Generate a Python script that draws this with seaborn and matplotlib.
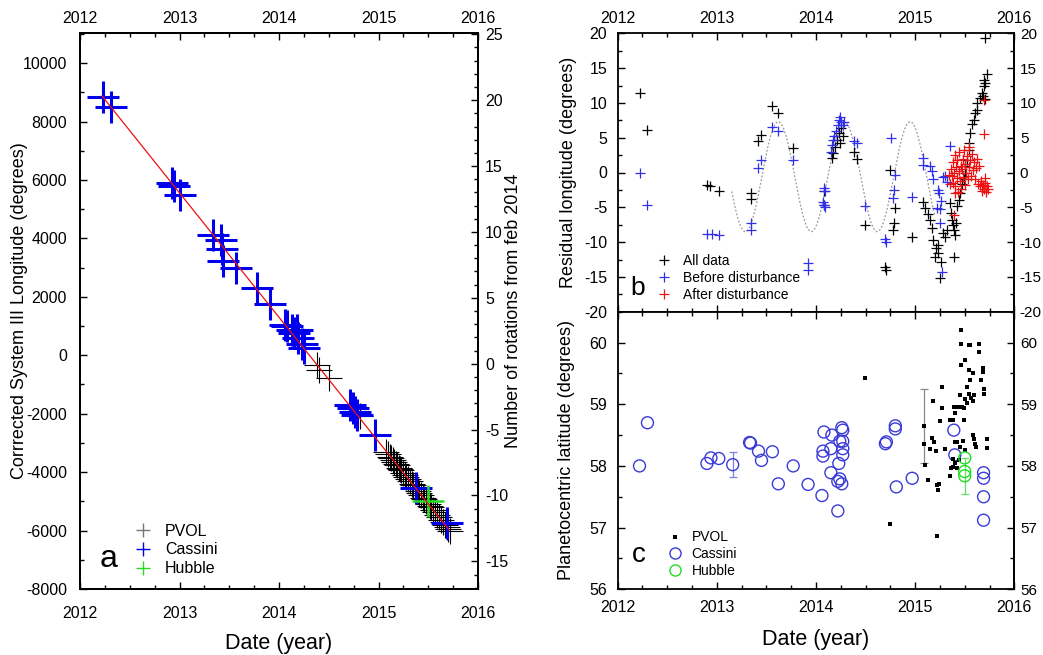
import numpy as np
import pandas as pd
import matplotlib
matplotlib.use("Agg")
import matplotlib.pyplot as plt
from matplotlib.lines import Line2D
from matplotlib.ticker import MultipleLocator
import seaborn as sns

# ---------------------------------------------------------------------------
# Panel a : corrected System III longitude of the feature
# ---------------------------------------------------------------------------
cassini_lon_date = [2012.23, 2012.31, 2012.92, 2012.94, 2013.01, 2013.34, 2013.42,
                    2013.43, 2013.44, 2013.57, 2013.78, 2013.91, 2014.06, 2014.08,
                    2014.13, 2014.15, 2014.18, 2014.19, 2014.23, 2014.25, 2014.71,
                    2014.74, 2014.76, 2014.78, 2014.96, 2015.38, 2015.69]
cassini_lon = [8840, 8510, 5900, 5790, 5470, 4130, 3960, 3640, 3220, 2990, 2310, 1740,
               1050, 990, 880, 760, 880, 600, 370, 250, -1690, -1810, -1950, -2030,
               -2720, -4540, -5740]

pvol_lon_date = [2014.38, 2014.40, 2014.50, 2014.73, 2014.76, 2014.81, 2015.08, 2015.10,
                 2015.12, 2015.13, 2015.15, 2015.16, 2015.18, 2015.19, 2015.21, 2015.22,
                 2015.23, 2015.25, 2015.27, 2015.28, 2015.30, 2015.32, 2015.34, 2015.35,
                 2015.37, 2015.38, 2015.40, 2015.41, 2015.43, 2015.45, 2015.46, 2015.48,
                 2015.50, 2015.52, 2015.53, 2015.55, 2015.57, 2015.59, 2015.61, 2015.63,
                 2015.65, 2015.67, 2015.69, 2015.70, 2015.72]
pvol_lon = [-320, -490, -780, -1790, -1900, -2080, -3300, -3380, -3470, -3510, -3590,
            -3640, -3720, -3770, -3850, -3890, -3940, -4020, -4110, -4150, -4230, -4320,
            -4400, -4450, -4530, -4570, -4660, -4700, -4790, -4870, -4910, -5000, -5080,
            -5170, -5210, -5300, -5380, -5470, -5550, -5640, -5720, -5810, -5890, -5940,
            -6020]

hubble_lon_date = [2015.50]
hubble_lon = [-5000]

# linear drift fit (end points)
fit_date = [2012.22, 2015.71]
fit_lon = [8880, -5980]

# ---------------------------------------------------------------------------
# Panel b : residual longitude after removing the drift
# ---------------------------------------------------------------------------
all_date = [2012.22, 2012.30, 2012.90, 2012.93, 2013.02, 2013.34, 2013.34, 2013.42,
            2013.45, 2013.56, 2013.62, 2013.77, 2014.08, 2014.08, 2014.16, 2014.17,
            2014.19, 2014.21, 2014.23, 2014.25, 2014.27, 2014.24, 2014.38, 2014.41,
            2014.49, 2014.70, 2014.71, 2014.75, 2014.80, 2014.79, 2014.78, 2014.97,
            2015.08, 2015.10, 2015.13, 2015.15, 2015.17, 2015.18, 2015.23, 2015.20,
            2015.23, 2015.25, 2015.28, 2015.30, 2015.32, 2015.21, 2015.26, 2015.35,
            2015.36, 2015.37, 2015.38, 2015.39, 2015.40, 2015.41, 2015.39, 2015.42,
            2015.44, 2015.45, 2015.47, 2015.49, 2015.50, 2015.50, 2015.52, 2015.54,
            2015.54, 2015.55, 2015.57, 2015.59, 2015.60, 2015.62, 2015.62, 2015.65,
            2015.67, 2015.69, 2015.70, 2015.69, 2015.72, 2015.70, 2015.68, 2015.70]
all_resid = [11.4, 6.1, -1.8, -2.0, -2.7, -2.9, -3.8, 4.5, 5.4, 9.6, 8.5, 3.5, -2.7,
             -4.6, 2.1, 2.8, 3.6, 4.7, 5.7, 6.4, 5.2, 4.2, 3.0, 2.0, -7.6, -13.6, -14.0,
             0.4, -5.1, -7.3, -8.3, -9.3, -4.2, -5.1, -5.9, -6.8, -8.0, -9.7, -10.4,
             -12.1, -11.6, -15.2, -8.7, -9.2, -8.3, -10.8, -12.8, -4.4, -5.8, -6.8,
             -7.5, -8.3, -9.0, -7.2, -12.1, -4.8, -3.9, -2.9, -1.7, -1.0, -0.1, 0.9,
             1.8, 3.3, 4.2, 5.7, 6.9, 7.6, 8.5, 9.0, 10.0, 10.7, 11.4, 12.4, 12.9, 13.3,
             14.1, 19.3, 11.0, 10.5]

before_date = [2012.22, 2012.30, 2012.90, 2012.95, 2013.02, 2013.34, 2013.34, 2013.42,
               2013.45, 2013.56, 2013.62, 2013.77, 2013.92, 2013.92, 2014.08, 2014.09,
               2014.07, 2014.08, 2014.09, 2014.15, 2014.16, 2014.17, 2014.18, 2014.20,
               2014.22, 2014.23, 2014.24, 2014.25, 2014.27, 2014.28, 2014.38, 2014.41,
               2014.49, 2014.70, 2014.71, 2014.76, 2014.80, 2014.79, 2014.78, 2014.97,
               2015.08, 2015.08, 2015.15, 2015.17, 2015.18, 2015.23, 2015.24, 2015.26,
               2015.22, 2015.25, 2015.30, 2015.32, 2015.35, 2015.25, 2015.27, 2015.28]
before_resid = [0.0, -4.7, -8.9, -8.9, -9.0, -7.3, -8.2, 0.6, 1.8, 6.6, 5.9, 1.8, -13.0,
                -14.0, -2.2, -2.6, -4.2, -4.6, -4.9, 3.0, 4.0, 4.6, 5.3, 6.0, 6.8, 7.5,
                8.0, 7.2, 6.8, 7.3, 4.5, 4.2, -4.8, -9.5, -10.0, 4.9, -0.3, -2.5, -3.7,
                -3.5, 2.1, 1.1, 0.9, 0.2, -1.0, -2.5, -2.9, -4.1, -5.1, -5.3, -0.5,
                -1.3, 3.8, -7.3, -14.3, -0.6]

after_date = [2015.39, 2015.69, 2015.69, 2015.34, 2015.36, 2015.37, 2015.38, 2015.38,
              2015.39, 2015.40, 2015.40, 2015.41, 2015.42, 2015.42, 2015.43, 2015.44,
              2015.44, 2015.45, 2015.46, 2015.46, 2015.47, 2015.48, 2015.48, 2015.49,
              2015.50, 2015.50, 2015.51, 2015.52, 2015.53, 2015.54, 2015.54, 2015.55,
              2015.56, 2015.57, 2015.58, 2015.59, 2015.60, 2015.61, 2015.62, 2015.63,
              2015.64, 2015.65, 2015.66, 2015.67, 2015.68, 2015.69, 2015.70, 2015.71,
              2015.72, 2015.73, 2015.70, 2015.35, 2015.40]
after_resid = [-6.1, 10.4, 5.6, -0.3, 0.5, -0.5, 1.5, -1.5, 0.0, 2.5, -2.0, 0.8, -0.8,
               1.8, -2.8, 0.2, 2.9, -1.2, 1.0, -2.3, 0.5, 2.0, -0.6, 3.2, -1.8, 1.2,
               0.0, 2.4, -1.0, 3.6, 0.8, 1.8, -0.5, 2.6, 0.3, 1.5, -0.9, 0.6, 1.9, -1.6,
               0.9, -2.0, -1.2, -2.6, -1.8, -2.3, -1.5, -2.8, -2.0, -2.4, -0.8, -1.6, -2.9]

# fitted oscillation (dotted curve)
osc_start, osc_end = 2013.15, 2015.20
osc_mean, osc_amp, osc_period, osc_peak = -0.6, 7.9, 0.665, 2013.62

# ---------------------------------------------------------------------------
# Panel c : planetocentric latitude
# ---------------------------------------------------------------------------
cassini_lat_date = [2012.22, 2012.30, 2012.90, 2012.94, 2013.02, 2013.16, 2013.33,
                    2013.34, 2013.42, 2013.45, 2013.56, 2013.62, 2013.77, 2013.92,
                    2014.06, 2014.07, 2014.07, 2014.08, 2014.16, 2014.15, 2014.15,
                    2014.22, 2014.24, 2014.22, 2014.24, 2014.23, 2014.26, 2014.27,
                    2014.27, 2014.27, 2014.27, 2014.26, 2014.70, 2014.71, 2014.80,
                    2014.80, 2014.81, 2014.97, 2015.39, 2015.40, 2015.69, 2015.69,
                    2015.69, 2015.69]
cassini_lat = [58.00, 58.70, 58.04, 58.13, 58.12, 58.02, 58.38, 58.37, 58.24, 58.09,
               58.23, 57.71, 58.00, 57.70, 57.52, 58.24, 58.16, 58.55, 58.50, 58.28,
               57.89, 57.75, 57.79, 57.27, 58.40, 58.04, 58.62, 58.58, 58.40, 58.28,
               58.18, 57.71, 58.36, 58.39, 58.65, 58.60, 57.66, 57.80, 58.58, 58.18,
               57.89, 57.80, 57.50, 57.12]

pvol_lat_date = [2014.49, 2014.75, 2015.09, 2015.09, 2015.10, 2015.13, 2015.15, 2015.17,
                 2015.18, 2015.19, 2015.21, 2015.22, 2015.24, 2015.23, 2015.22, 2015.25,
                 2015.27, 2015.27, 2015.30, 2015.35, 2015.36, 2015.35, 2015.38, 2015.39,
                 2015.41, 2015.40, 2015.45, 2015.40, 2015.42, 2015.45, 2015.38, 2015.40,
                 2015.42, 2015.38, 2015.44, 2015.46, 2015.46, 2015.54, 2015.55, 2015.46,
                 2015.49, 2015.50, 2015.49, 2015.50, 2015.54, 2015.55, 2015.52, 2015.54,
                 2015.56, 2015.58, 2015.59, 2015.58, 2015.58, 2015.59, 2015.60, 2015.61,
                 2015.64, 2015.64, 2015.66, 2015.68, 2015.68, 2015.69, 2015.69, 2015.72,
                 2015.72, 2015.48, 2015.50, 2015.52, 2015.47, 2015.44]
pvol_lat = [59.43, 57.06, 58.65, 58.35, 58.02, 57.77, 58.27, 58.45, 59.05, 58.38, 58.24,
            57.69, 57.71, 57.61, 56.87, 58.73, 58.94, 59.28, 58.27, 57.83, 57.96, 58.75,
            58.74, 58.96, 58.96, 58.85, 59.15, 58.39, 58.39, 58.31, 58.12, 58.05, 57.97,
            57.98, 58.10, 60.20, 59.97, 59.96, 59.96, 59.63, 58.94, 59.08, 58.74, 59.72,
            59.56, 59.39, 59.28, 59.17, 59.10, 59.05, 59.15, 59.50, 58.50, 58.44, 58.36,
            58.31, 59.97, 59.84, 59.39, 59.59, 59.52, 59.24, 59.17, 58.44, 58.29, 58.40,
            58.25, 59.02, 58.96, 58.95]

hubble_lat_date = [2015.50, 2015.50, 2015.50]
hubble_lat = [58.13, 57.91, 57.84]

# representative uncertainties
cassini_err_date, cassini_err_lat, cassini_err = [2013.16], [58.02], [0.20]
pvol_err_date, pvol_err_lat, pvol_err = [2015.09], [58.65], [0.60]
hubble_err_date, hubble_err_lat, hubble_err = [2015.50], [57.84], [0.29]

year_ticks = [2012, 2013, 2014, 2015, 2016]

# ---------------------------------------------------------------------------
BLUE = "#0000ee"
BLUE_B = "#3030e8"
BLUE_C = "#3a3ad8"
GREEN = "#22dd22"
RED = "#ee1111"

sns.set_theme(style="ticks")
plt.rcParams["font.family"] = ["Liberation Sans", "DejaVu Sans"]
plt.rcParams["axes.unicode_minus"] = False
plt.rcParams["text.color"] = "black"
plt.rcParams["axes.labelcolor"] = "black"
plt.rcParams["xtick.color"] = "black"
plt.rcParams["ytick.color"] = "black"
plt.rcParams["axes.edgecolor"] = "black"

W, H = 1043, 655
fig = plt.figure(figsize=(W / 100, H / 100), dpi=100)


def px_axes(left, top, right, bottom):
    return fig.add_axes([left / W, 1 - bottom / H, (right - left) / W, (bottom - top) / H])


ax_a = px_axes(80, 33, 478, 589)
ax_b = px_axes(617.7, 33.3, 1014.3, 311.7)
ax_c = px_axes(617.7, 311.7, 1014.3, 589.3)

TICK_FS = 11.5


def style_axis(axis_obj, minor, pad, fs=TICK_FS):
    axis_obj.set_minor_locator(MultipleLocator(minor))
    axis_obj.set_tick_params(which="both", direction="in", width=1.0, colors="black",
                             labelsize=fs, pad=pad)
    axis_obj.set_tick_params(which="major", length=5)
    axis_obj.set_tick_params(which="minor", length=3)


def style_spines(ax):
    for s in ax.spines.values():
        s.set_linewidth(1.3)
        s.set_color("black")


# ----------------------------- panel a ------------------------------------
df_pvol_a = pd.DataFrame({"date": pvol_lon_date, "lon": pvol_lon})
df_cas_a = pd.DataFrame({"date": cassini_lon_date, "lon": cassini_lon})
df_hub_a = pd.DataFrame({"date": hubble_lon_date, "lon": hubble_lon})
df_fit = pd.DataFrame({"date": fit_date, "lon": fit_lon})

sns.scatterplot(data=df_pvol_a, x="date", y="lon", ax=ax_a, marker="+", s=19 ** 2,
                color="black", edgecolor="black", linewidth=0.8, zorder=2, legend=False)
sns.scatterplot(data=df_cas_a, x="date", y="lon", ax=ax_a, marker="+", s=23 ** 2,
                color=BLUE, edgecolor=BLUE, linewidth=2.2, zorder=3, legend=False)
sns.scatterplot(data=df_hub_a, x="date", y="lon", ax=ax_a, marker="+", s=23 ** 2,
                color=GREEN, edgecolor=GREEN, linewidth=1.8, zorder=4, legend=False)
sns.lineplot(data=df_fit, x="date", y="lon", ax=ax_a, color=RED, linewidth=0.9, zorder=5)

ax_a.set_xlim(2012, 2016)
ax_a.set_ylim(-8000, 11030)
ax_a.set_xticks(year_ticks)
ax_a.set_yticks(np.arange(-8000, 10001, 2000))
style_axis(ax_a.xaxis, 0.25, 12)
style_axis(ax_a.yaxis, 1000, 9.4)
ax_a.tick_params(axis="x", which="both", top=False)
style_spines(ax_a)
ax_a.set_xlabel("Date (year)", fontsize=15.5, labelpad=9)
ax_a.set_ylabel("Corrrected System III Longitude (degrees)", fontsize=13, labelpad=-4)

top_a = ax_a.secondary_xaxis("top")
top_a.set_xticks(year_ticks)
style_axis(top_a.xaxis, 0.25, 5)
style_spines(top_a)

ax_a2 = ax_a.twinx()
ax_a2.set_ylim(-17.1, 25.1)
ax_a2.set_yticks(np.arange(-15, 26, 5))
style_axis(ax_a2.yaxis, 1, 5)
style_spines(ax_a2)
ax_a2.set_ylabel("Number of rotations from feb 2014", fontsize=13, labelpad=-2)

ax_a.text(0.05, 0.04, "a", transform=ax_a.transAxes, fontsize=23, ha="left", va="baseline")

# ----------------------------- panel b ------------------------------------
osc_t = np.linspace(osc_start, osc_end, 400)
df_osc = pd.DataFrame({"date": osc_t,
                       "res": osc_mean + osc_amp * np.cos(2 * np.pi * (osc_t - osc_peak) / osc_period)})
sns.lineplot(data=df_osc, x="date", y="res", ax=ax_b, color="#999999", linewidth=0.9,
             linestyle=(0, (1.5, 1.5)), zorder=1)

df_all = pd.DataFrame({"date": all_date, "res": all_resid})
df_before = pd.DataFrame({"date": before_date, "res": before_resid})
df_after = pd.DataFrame({"date": after_date, "res": after_resid})
PLUS_S = 7.0 ** 2
sns.scatterplot(data=df_all, x="date", y="res", ax=ax_b, marker="+", s=PLUS_S,
                color="black", edgecolor="black", linewidth=0.9, zorder=2, legend=False)
sns.scatterplot(data=df_before, x="date", y="res", ax=ax_b, marker="+", s=PLUS_S,
                color=BLUE_B, edgecolor=BLUE_B, linewidth=0.9, zorder=3, legend=False)
sns.scatterplot(data=df_after, x="date", y="res", ax=ax_b, marker="+", s=PLUS_S,
                color=RED, edgecolor=RED, linewidth=0.9, zorder=4, legend=False)

ax_b.set_xlim(2012, 2016)
ax_b.set_ylim(-20, 20)
ax_b.set_xticks(year_ticks)
ax_b.set_yticks(np.arange(-20, 21, 5))
style_axis(ax_b.xaxis, 0.25, 5)
style_axis(ax_b.yaxis, 2.5, 7.7)
ax_b.tick_params(axis="x", which="both", top=True, labeltop=True, labelbottom=False)
ax_b.tick_params(axis="y", which="both", right=False)
style_spines(ax_b)
ax_b.set_xlabel("")
ax_b.set_ylabel("Residual longitude (degrees)", fontsize=13, labelpad=5)
right_b = ax_b.secondary_yaxis("right")
right_b.set_yticks(np.arange(-20, 21, 5))
style_axis(right_b.yaxis, 2.5, 4, fs=11)
style_spines(right_b)
ax_b.text(0.031, 0.06, "b", transform=ax_b.transAxes, fontsize=19, ha="left", va="baseline")

# ----------------------------- panel c ------------------------------------
df_cas_c = pd.DataFrame({"date": cassini_lat_date, "lat": cassini_lat})
df_pvol_c = pd.DataFrame({"date": pvol_lat_date, "lat": pvol_lat})
df_hub_c = pd.DataFrame({"date": hubble_lat_date, "lat": hubble_lat})

ax_c.errorbar(cassini_err_date, cassini_err_lat, yerr=cassini_err, fmt="none",
              ecolor="#8080e0", elinewidth=0.9, capsize=3, capthick=0.9, zorder=1)
ax_c.errorbar(pvol_err_date, pvol_err_lat, yerr=pvol_err, fmt="none",
              ecolor="#888888", elinewidth=0.9, capsize=3, capthick=0.9, zorder=1)
ax_c.errorbar(hubble_err_date, hubble_err_lat, yerr=hubble_err, fmt="none",
              ecolor="#66dd66", elinewidth=0.9, capsize=3, capthick=0.9, zorder=1)

sns.scatterplot(data=df_cas_c, x="date", y="lat", ax=ax_c, marker="o", s=8.6 ** 2,
                facecolor="none", edgecolor=BLUE_C, linewidth=1.0, zorder=2, legend=False)
sns.scatterplot(data=df_pvol_c, x="date", y="lat", ax=ax_c, marker="s", s=2.6 ** 2,
                color="black", edgecolor="black", linewidth=0, zorder=3, legend=False)
sns.scatterplot(data=df_hub_c, x="date", y="lat", ax=ax_c, marker="o", s=8.6 ** 2,
                facecolor="none", edgecolor=GREEN, linewidth=1.0, zorder=4, legend=False)

ax_c.set_xlim(2012, 2016)
ax_c.set_ylim(56, 60.5)
ax_c.set_xticks(year_ticks)
ax_c.set_yticks(np.arange(56, 61, 1))
style_axis(ax_c.xaxis, 0.25, 8)
style_axis(ax_c.yaxis, 0.5, 7.7)
ax_c.tick_params(axis="x", which="both", top=True)
ax_c.tick_params(axis="y", which="both", right=False)
style_spines(ax_c)
ax_c.set_xlabel("Date (year)", fontsize=15.5, labelpad=10)
ax_c.set_ylabel("Planetocentric latitude (degrees)", fontsize=13, labelpad=10)
right_c = ax_c.secondary_yaxis("right")
right_c.set_yticks(np.arange(56, 61, 1))
style_axis(right_c.yaxis, 0.5, 4, fs=11)
style_spines(right_c)
ax_c.text(0.035, 0.099, "c", transform=ax_c.transAxes, fontsize=20, ha="left", va="baseline")


# ----------------------------- legends ------------------------------------
def add_legend(ax, handles, labels, marker_x, mid_y, fs, spacing, textpad):
    f_px = fs * 100 / 72
    hl = 1.0
    leg = ax.legend(handles, labels, loc="center left",
                    bbox_to_anchor=((marker_x - hl * f_px / 2) / W, 1 - mid_y / H),
                    bbox_transform=fig.transFigure, frameon=False, fontsize=fs,
                    handlelength=hl, handletextpad=textpad, borderpad=0,
                    borderaxespad=0, labelspacing=spacing)
    return leg


add_legend(ax_a,
           [Line2D([], [], ls="", marker="+", ms=9.5, mew=1.0, color="#777777"),
            Line2D([], [], ls="", marker="+", ms=9.5, mew=1.0, color=BLUE),
            Line2D([], [], ls="", marker="+", ms=9.5, mew=1.0, color=GREEN)],
           ["PVOL", "Cassini", "Hubble"], 142.7, 550, 11.5, 0.25, 0.9)

add_legend(ax_b,
           [Line2D([], [], ls="", marker="+", ms=7, mew=0.9, color="black"),
            Line2D([], [], ls="", marker="+", ms=7, mew=0.9, color=BLUE_B),
            Line2D([], [], ls="", marker="+", ms=7, mew=0.9, color=RED)],
           ["All data", "Before disturbance", "After disturbance"], 664, 277.7, 10, 0.23, 0.85)

add_legend(ax_c,
           [Line2D([], [], ls="", marker="s", ms=3.2, mew=0, color="black"),
            Line2D([], [], ls="", marker="o", ms=8, mew=1.0, mfc="none", mec=BLUE_C),
            Line2D([], [], ls="", marker="o", ms=8, mew=1.0, mfc="none", mec=GREEN)],
           ["PVOL", "Cassini", "Hubble"], 675, 554, 10, 0.19, 0.7)

fig.savefig("out.png", dpi=100)
